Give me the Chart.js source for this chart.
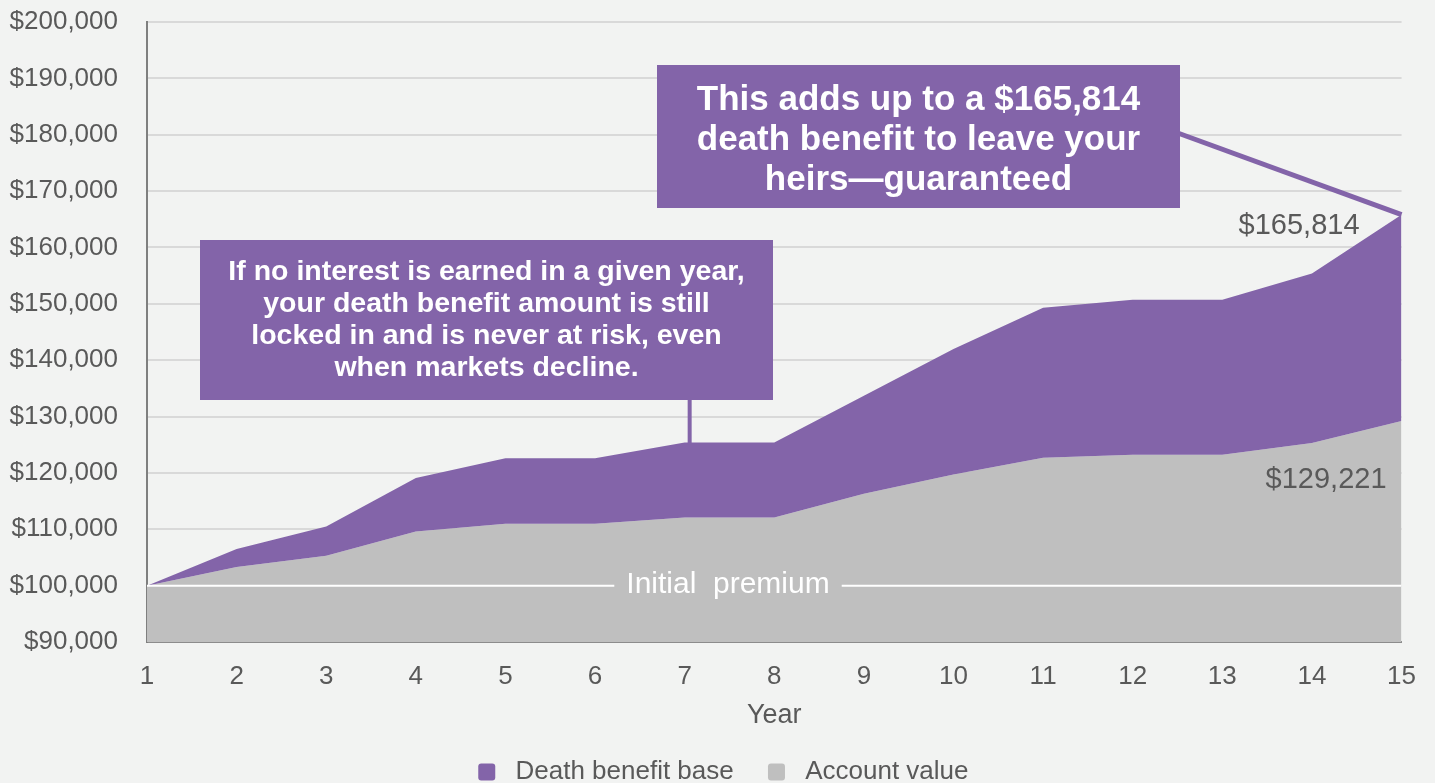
<!DOCTYPE html>
<html>
<head>
<meta charset="utf-8">
<script src="https://cdn.jsdelivr.net/npm/chart.js@4.4.1/dist/chart.umd.min.js"></script>
<style>
  html, body { margin: 0; padding: 0; background: #F2F3F2; overflow: hidden; }
  #wrap { width: 1435px; height: 795px; position: relative; }
</style>
</head>
<body>
<div id="wrap"><canvas id="chart"></canvas></div>
<script>
const years = ['1', '2', '3', '4', '5', '6', '7', '8', '9', '10', '11', '12', '13', '14', '15'];
const deathBenefit = [100000, 106500, 110500, 119100, 122600, 122600, 125400, 125400, 133700, 142000, 149300, 150700, 150700, 155400, 165814];
const accountValue = [100000, 103300, 105300, 109600, 111000, 111000, 112100, 112100, 116300, 119700, 122700, 123200, 123200, 125300, 129221];
const initialPremium = 100000;
const yMin = 90000, yMax = 200000, yStep = 10000;

const PURPLE = '#8364A9';
const GRAY = '#BFBFBF';
const TEXT = '#595959';
const FONT = '"Liberation Sans", Arial, sans-serif';

const money = v => '$' + Math.round(v).toLocaleString('en-US');

const noteLow = [
  'If no interest is earned in a given year,',
  'your death benefit amount is still',
  'locked in and is never at risk, even',
  'when markets decline.'
];
const noteHigh = [
  'This adds up to a ' + money(deathBenefit[deathBenefit.length - 1]),
  'death benefit to leave your',
  'heirs\u2014guaranteed'
];

function drawBox(ctx, x0, y0, x1, y1, lines, font, lineH, shift) {
  ctx.fillStyle = PURPLE;
  ctx.fillRect(x0, y0, x1 - x0, y1 - y0);
  ctx.fillStyle = '#FFFFFF';
  ctx.font = font;
  ctx.textAlign = 'center';
  ctx.textBaseline = 'middle';
  const cx = (x0 + x1) / 2;
  const start = (y0 + y1) / 2 - (lines.length - 1) * lineH / 2 + shift;
  lines.forEach((t, i) => ctx.fillText(t, cx, start + i * lineH));
}

const annotations = {
  id: 'annotations',
  afterLayout(chart) {
    // nudge the legend row right to line up under the plot
    chart.legend.left += 26;
    chart.legend.right += 26;
  },
  afterDatasetsDraw(chart) {
    const { ctx, chartArea: a, scales: { x, y } } = chart;
    ctx.save();

    // initial premium line
    const py = y.getPixelForValue(initialPremium);
    ctx.font = '30px ' + FONT;
    const label = 'Initial  premium';
    const tw = ctx.measureText(label).width;
    const cx = 728;
    ctx.strokeStyle = '#FFFFFF';
    ctx.lineWidth = 2;
    ctx.beginPath();
    ctx.moveTo(a.left, py); ctx.lineTo(cx - tw / 2 - 12, py);
    ctx.moveTo(cx + tw / 2 + 12, py); ctx.lineTo(a.right, py);
    ctx.stroke();
    ctx.fillStyle = '#FFFFFF';
    ctx.textAlign = 'center';
    ctx.textBaseline = 'middle';
    ctx.fillText(label, cx, py - 1);

    // end value labels
    const last = years.length - 1;
    ctx.fillStyle = TEXT;
    ctx.font = '29px ' + FONT;
    ctx.textAlign = 'right';
    ctx.fillText(money(deathBenefit[last]), a.right - 42, y.getPixelForValue(deathBenefit[last]) + 11);
    ctx.fillText(money(accountValue[last]), a.right - 15, y.getPixelForValue(accountValue[last]) + 59);

    // leader lines
    ctx.strokeStyle = PURPLE;
    ctx.lineWidth = 4;
    ctx.beginPath();
    const lx = x.getPixelForValue(6) + 5;
    ctx.moveTo(lx, 395);
    ctx.lineTo(lx, y.getPixelForValue(deathBenefit[6]) + 2);
    ctx.stroke();
    ctx.lineWidth = 5;
    ctx.beginPath();
    ctx.moveTo(1175, 132);
    ctx.lineTo(x.getPixelForValue(last), y.getPixelForValue(deathBenefit[last]));
    ctx.stroke();

    // callout boxes
    drawBox(ctx, 200, 240, 773, 400, noteLow, 'bold 28.5px ' + FONT, 32, 0);
    drawBox(ctx, 657, 65, 1180, 208, noteHigh, 'bold 35px ' + FONT, 40, 4);

    ctx.restore();
  }
};

new Chart(document.getElementById('chart'), {
  type: 'line',
  data: {
    labels: years,
    datasets: [
      {
        label: 'Death benefit base',
        data: deathBenefit,
        backgroundColor: PURPLE,
        borderColor: PURPLE,
        borderWidth: 0,
        pointRadius: 0,
        fill: '+1'
      },
      {
        label: 'Account value',
        data: accountValue,
        backgroundColor: GRAY,
        borderColor: GRAY,
        borderWidth: 0,
        pointRadius: 0,
        fill: 'start'
      }
    ]
  },
  options: {
    responsive: true,
    maintainAspectRatio: false,
    animation: false,
    layout: { padding: { top: 22, right: 33, left: 0, bottom: 0 } },
    plugins: {
      tooltip: { enabled: false },
      legend: {
        position: 'bottom',
        labels: {
          color: TEXT,
          font: { family: FONT, size: 26 },
          boxWidth: 17,
          boxHeight: 17,
          useBorderRadius: true,
          borderRadius: 3,
          padding: 27,
          generateLabels(chart) {
            return Chart.defaults.plugins.legend.labels.generateLabels(chart)
              .map(item => ({ ...item, text: ' ' + item.text + ' ' }));
          }
        }
      }
    },
    scales: {
      x: {
        afterFit(scale) { scale.height = 90; },
        grid: { display: false, drawTicks: false },
        border: { display: true, color: '#8C8C8C', width: 2 },
        ticks: { color: TEXT, font: { family: FONT, size: 26 }, padding: 19, maxRotation: 0, autoSkip: false },
        title: { display: true, text: 'Year', color: TEXT, font: { family: FONT, size: 27 }, padding: { top: 0, bottom: 0 } }
      },
      y: {
        min: yMin,
        max: yMax,
        afterFit(scale) {
          scale.width = 147;
          scale.paddingTop = 0;
          scale.paddingBottom = 0;
        },
        grid: { color: '#D9D9D9', lineWidth: 2, drawTicks: false },
        border: { display: true, color: '#7F7F7F', width: 2 },
        ticks: { stepSize: yStep, color: TEXT, font: { family: FONT, size: 26 }, padding: 29, callback: v => money(v) }
      }
    }
  },
  plugins: [annotations]
});
</script>
</body>
</html>
